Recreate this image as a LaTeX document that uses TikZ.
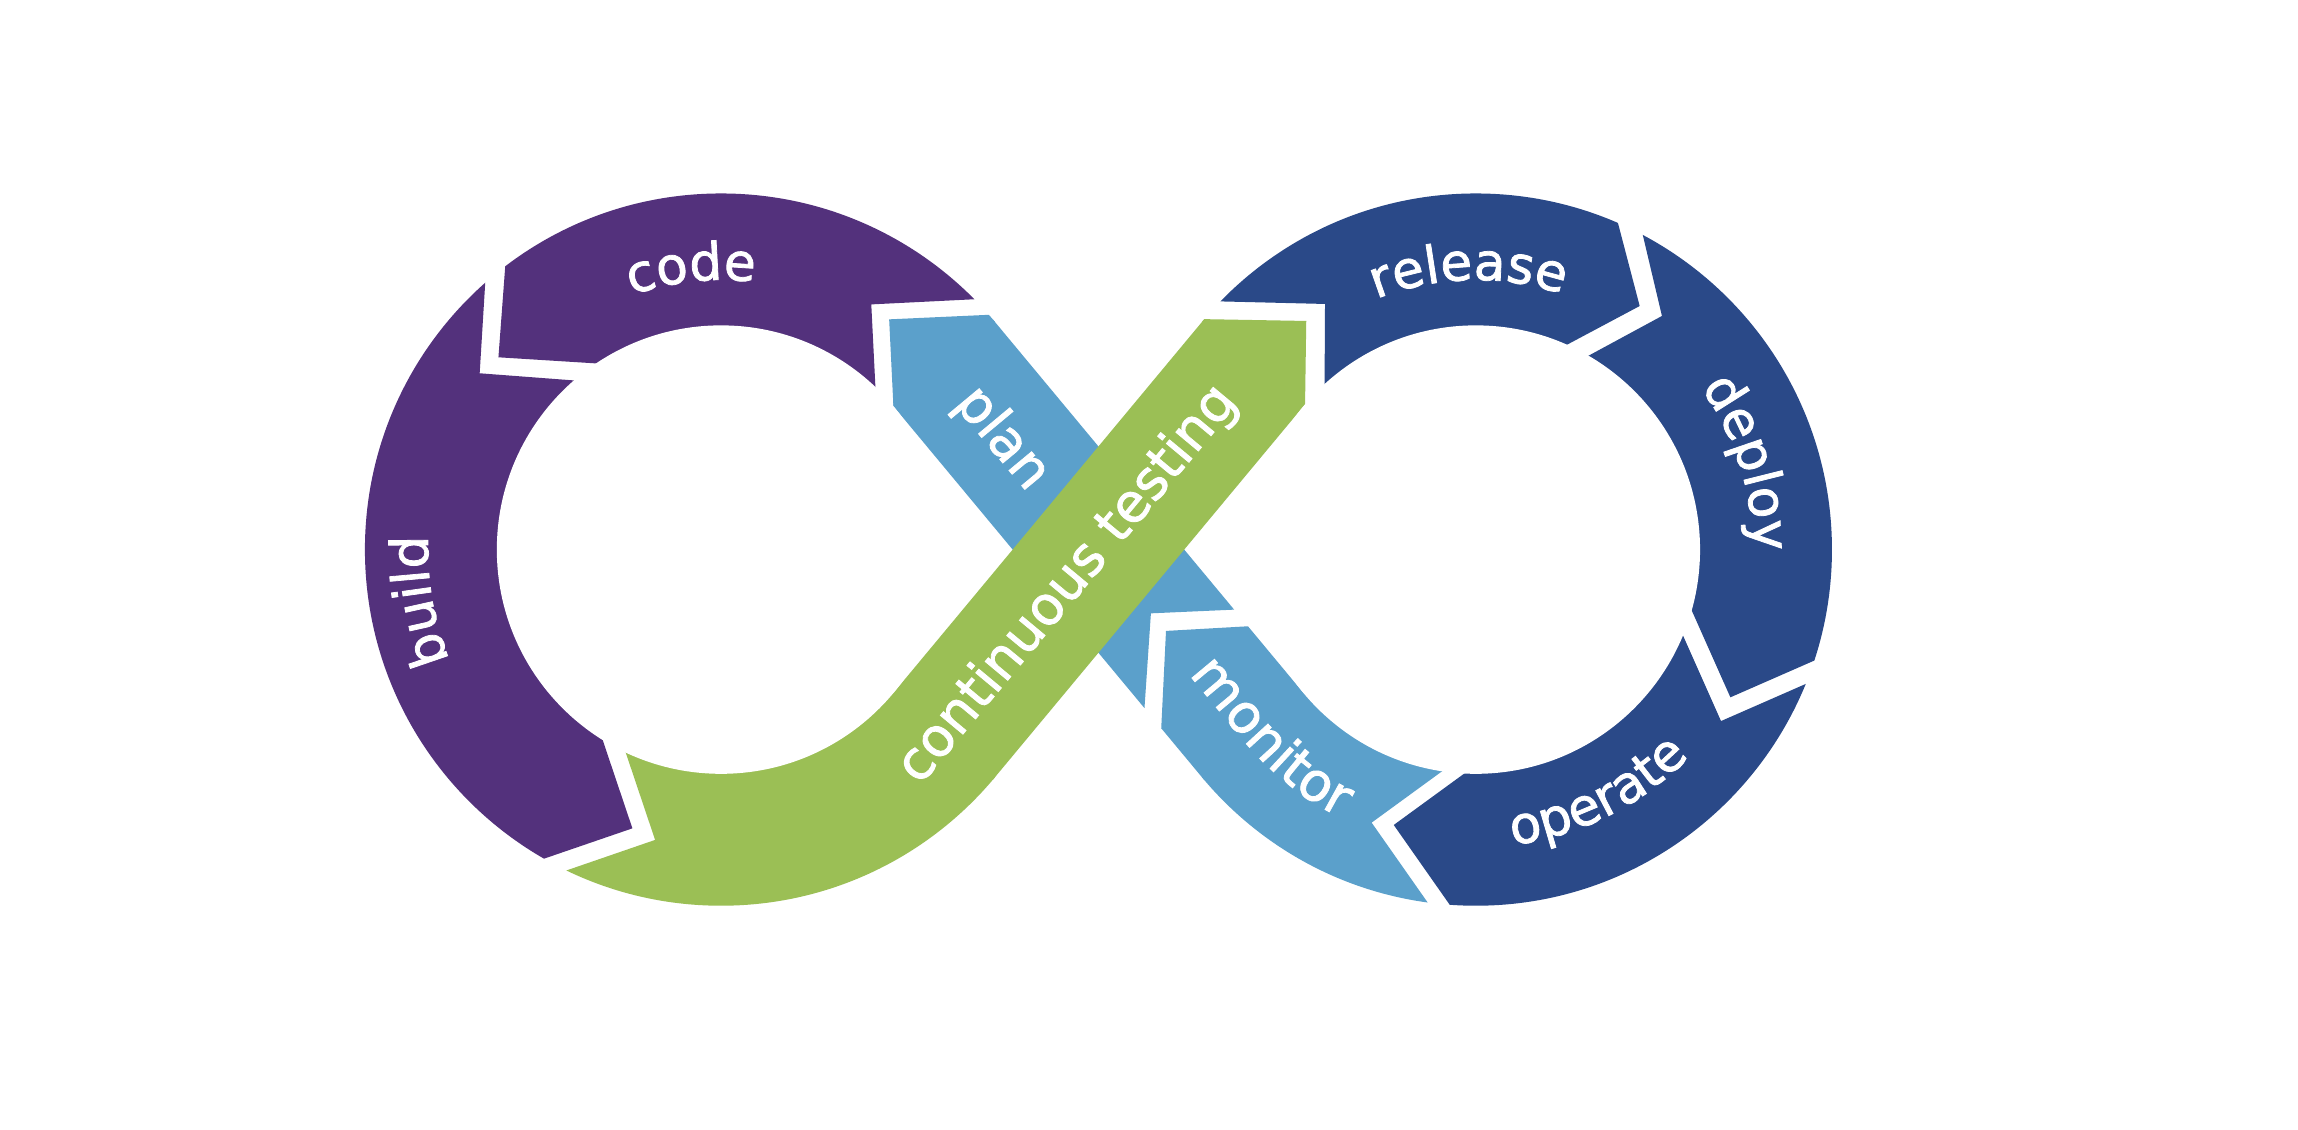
\documentclass[tikz,border=0pt]{standalone}
\usepackage{fontspec}
\newfontfamily\segfamily[FakeBold=1.5]{DejaVu Sans}
\usetikzlibrary{decorations.text}
\definecolor{cpurple}{HTML}{53317C}
\definecolor{cgreen}{HTML}{9BBF55}
\definecolor{csky}{HTML}{5BA0CB}
\definecolor{cnavy}{HTML}{2A4988}
\newcommand\arcfont{\segfamily\fontsize{26.5pt}{30pt}\selectfont}
\newcommand\barfont{\segfamily\fontsize{27.5pt}{32pt}\selectfont}
% pieces of the figure-eight band (y axis pointing down)
\newcommand\leftring[2]{\begin{scope}
  \clip (492,375) circle[radius=182.25pt];
  \clip (492,375) -- (722.7,566.8) -- (492,800) -- (100,375) -- (492,-50) -- (722.7,183.2) -- cycle;
  \fill[#1] #2;\end{scope}}
\newcommand\rightring[2]{\begin{scope}
  \clip (1007,375) circle[radius=182.25pt];
  \clip (1007,375) -- (776.3,183.2) -- (1007,-50) -- (1420,375) -- (1007,800) -- (776.3,566.8) -- cycle;
  \fill[#1] #2;\end{scope}}
\newcommand\skystrip[2]{\begin{scope}
  \clip (677.56,218.10) -- (890.64,474.36) -- (821.44,531.90) -- (608.36,275.64) -- cycle;
  \fill[#1] #2;\end{scope}}
\newcommand\greenstrip[2]{\begin{scope}
  \clip (677.56,531.90) -- (890.64,275.64) -- (821.44,218.10) -- (608.36,474.36) -- cycle;
  \fill[#1] #2;\end{scope}}
\tikzset{
  arclabel/.style args={#1}{decorate,decoration={text along path,text align=center,text color=white,text={|\arcfont|#1}}},
  barlabel/.style={text=white,font=\barfont,anchor=base,inner sep=0pt}
}
\begin{document}
\begin{tikzpicture}[x=0.75pt,y=0.75pt]
\useasboundingbox (0,0) rectangle (1568,-771);
\fill[white] (0,0) rectangle (1568,-771);

\begin{scope}[yscale=-1]
  % segment outlines, each bounded by its two chevron cuts
  \def\codeshape{(684.5,203.2) -- (594.5,207.7) -- (599,297.7) -- (492,375) -- (429.9,249.4) -- (340.1,243.8) -- (346.8,154.1) -- (400,80) -- (600,80) -- (720,150) -- cycle}
  \def\buildshape{(417,261.5) -- (327.3,254.7) -- (332.8,164.9) -- (250,150) -- (150,375) -- (230,620) -- (346.4,594.4) -- (431.5,565.2) -- (402.8,479.9) -- (492,375) -- cycle}
  \def\testshape{(447,573.1) -- (361.9,602.4) -- (380,690) -- (700,620) -- (960,330) -- (890,309) -- (891.3,219) -- (801.3,217.4) -- (700,330) -- (492,375) -- (418.3,487.8) -- cycle}
  \def\releaseshape{(814.1,205.2) -- (904.1,207.4) -- (903.6,297.4) -- (1007,375) -- (1039.4,251.1) -- (1118.8,208.8) -- (1096,121.7) -- (1060,50) -- (850,60) -- (760,160) -- cycle}
  \def\deployshape{(1054.9,258.4) -- (1134,215.6) -- (1113.3,128.1) -- (1200,70) -- (1340,250) -- (1340,430) -- (1263.1,439.7) -- (1180.7,475.8) -- (1144.1,393.6) -- (1007,375) -- cycle}
  \def\operateshape{(1137.7,409.7) -- (1174.3,492) -- (1256.7,455.9) -- (1340,540) -- (1180,720) -- (1000,720) -- (1002.7,636.6) -- (951,562.9) -- (1023.7,509.9) -- (1007,375) -- cycle}
  \def\monitorshape{(935.9,561.3) -- (987.6,635) -- (900,700) -- (760,560) -- (791.2,520.3) -- (795.6,430.5) -- (885.4,425.4) -- (1008.6,508.3) -- cycle}
  \def\planshape{(785.3,418.5) -- (875.2,414.5) -- (900,300) -- (760,150) -- (700,160) -- (696.6,213.8) -- (606.7,217.9) -- (611.1,307.8) -- (700,420) -- (779.2,508.3) -- cycle}

  \leftring{cpurple}{\codeshape}
  \leftring{cpurple}{\buildshape}
  \skystrip{csky}{\planshape}
  \leftring{csky}{\planshape}
  \skystrip{csky}{\monitorshape}
  \rightring{csky}{\monitorshape}
  \rightring{cnavy}{\releaseshape}
  \rightring{cnavy}{\deployshape}
  \rightring{cnavy}{\operateshape}
  \leftring{cgreen}{\testshape}
  \greenstrip{cgreen}{\testshape}
  \rightring{cgreen}{\testshape}

  % the two holes of the loop
  \fill[white] (492,375) circle[radius=114.75pt];
  \fill[white] (1007,375) circle[radius=114.75pt];
\end{scope}

% labels
\path[arclabel={code}] (492,-375) ++(141.1:184) arc[start angle=141.1,end angle=51.1,radius=138pt];
\path[arclabel={build}] (492,-375) ++(229.7:200) arc[start angle=229.7,end angle=149.7,radius=150pt];
\path[arclabel={release}] (1007,-375) ++(136.5:184) arc[start angle=136.5,end angle=46.5,radius=138pt];
\path[arclabel={deploy}] (1007,-375) ++(62.7:189) arc[start angle=62.7,end angle=-27.3,radius=141.75pt];
\path[arclabel={operate}] (1007,-375) ++(-108.5:203) arc[start angle=-108.5,end angle=-18.5,radius=152.25pt];
\path[decorate,decoration={text along path,text align=center,text color=white,text={|\barfont|monitor}}]
  (785.44,-429.18) -- (849.37,-506.07) arc[start angle=-140.26,end angle=-105.6,radius=153.75pt];
\node[barlabel,rotate=50.26] (ctest) at (736.5,-405.4) {continuous testing};
\node[barlabel,rotate=-50.26] (plan) at (675.9,-305.9) {plan};
\end{tikzpicture}
\end{document}
